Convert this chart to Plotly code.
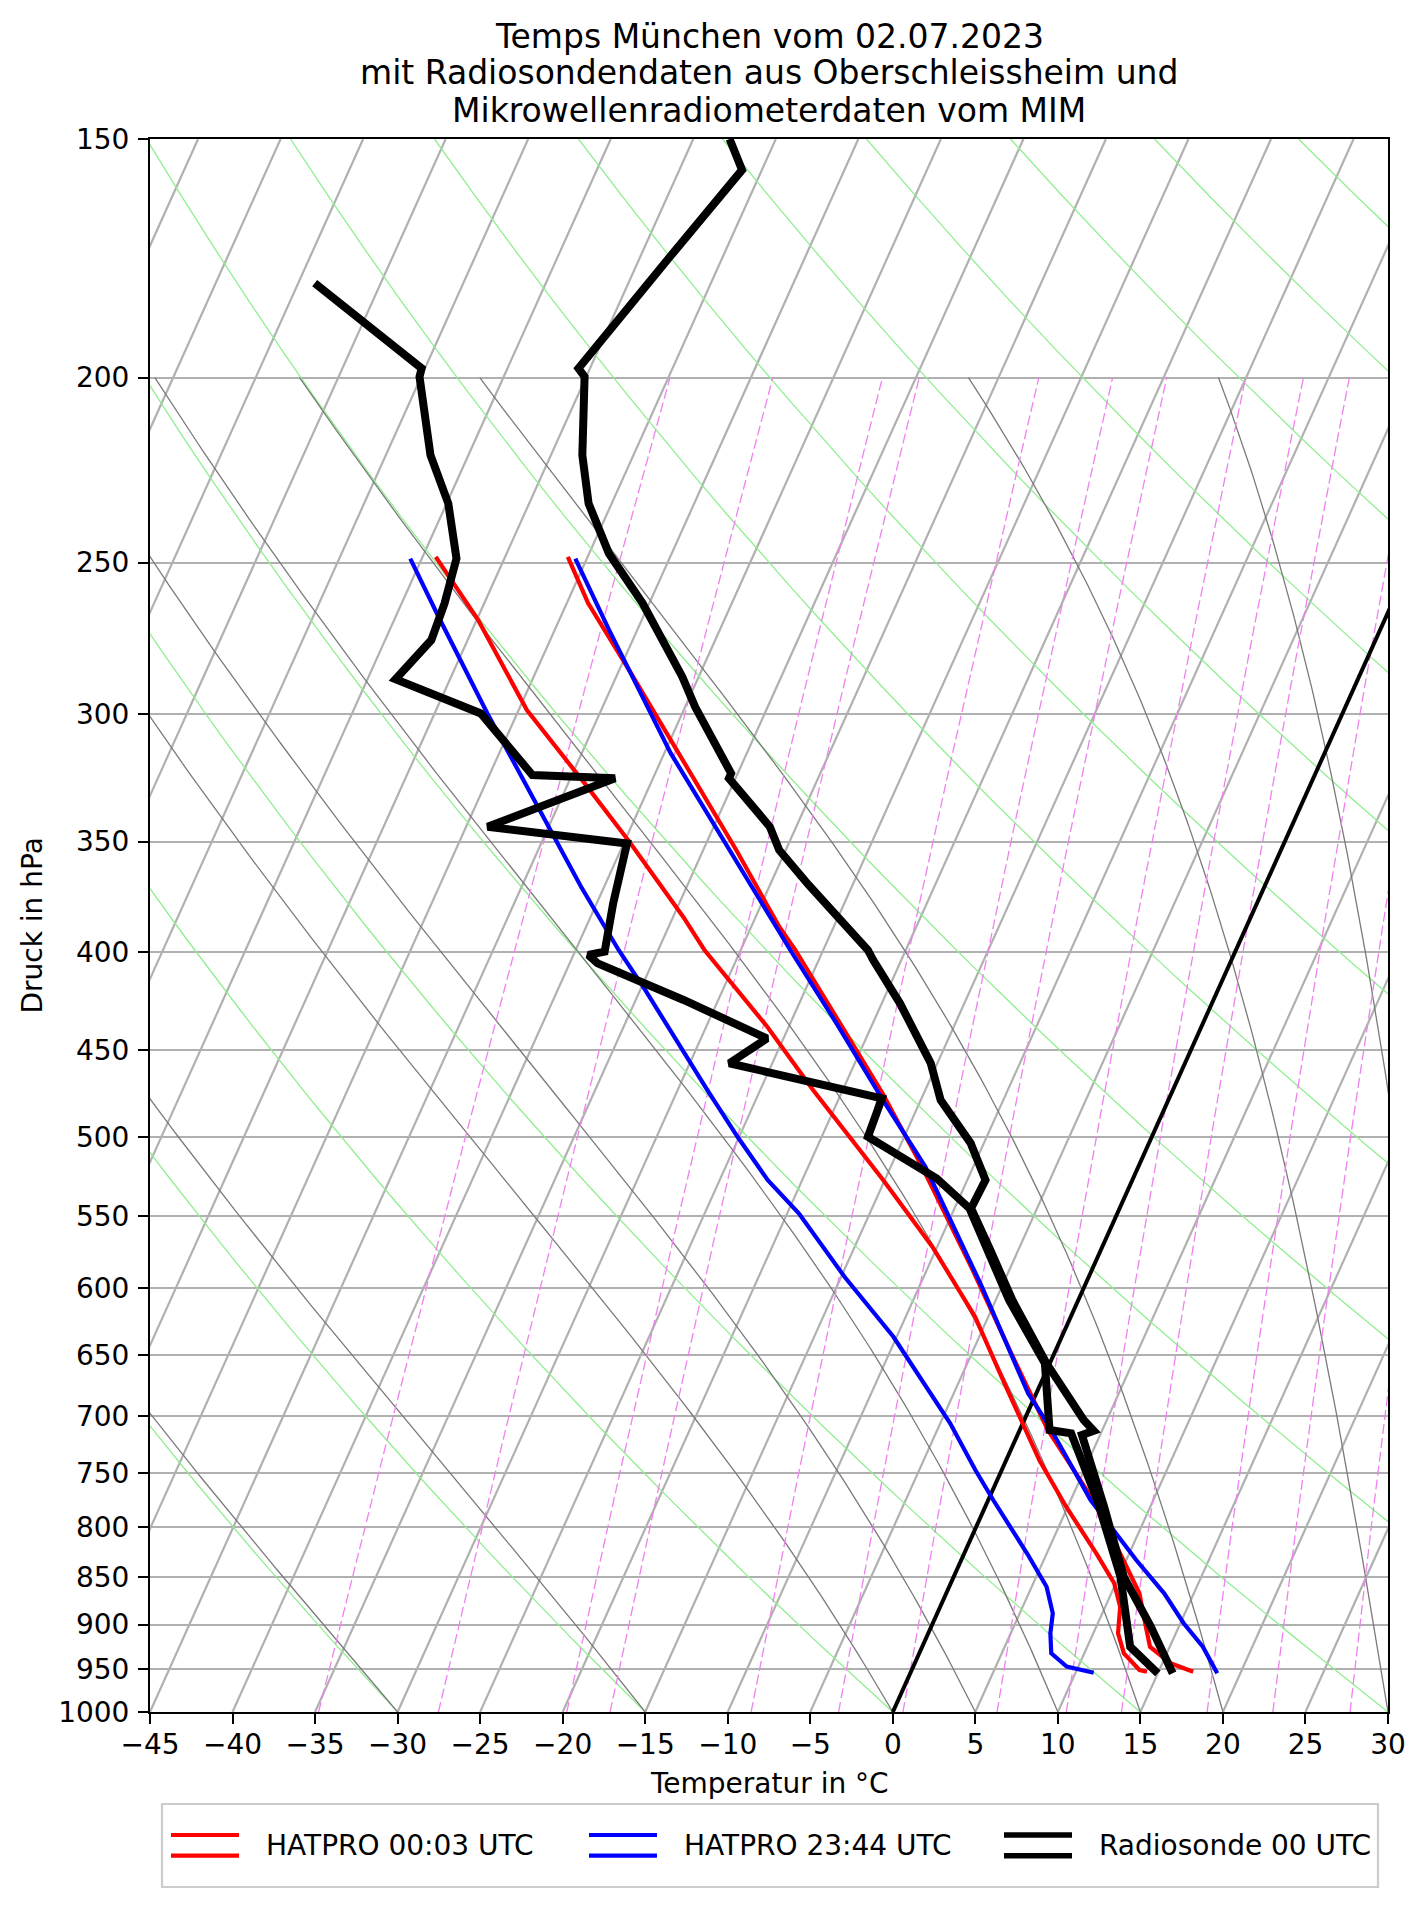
import numpy as np
import plotly.graph_objects as go

# ---------------- data ----------------
# Radiosonde 00 UTC (Oberschleissheim): temperature
sonde_p = [150, 155.7, 172.9, 190.4, 197.8, 199.8, 219.6, 232.8, 247.3, 262.6, 286.9, 297.5,
           322.4, 324.3, 343.8, 353.6, 368.6, 398.9, 403.8, 425.4, 457.3, 478.0, 497.6, 503.6,
           526.4, 544.7, 572.8, 608.4, 656.7, 703.2, 712.3, 716.0, 780.7, 849.4, 902.2, 954.4]
sonde_T = [-52.8, -51.2, -53.2, -54.9, -55.7, -55.1, -53.1, -51.4, -48.8, -45.4, -41.0, -39.4,
           -35.4, -35.4, -31.6, -30.4, -27.7, -22.3, -21.7, -18.9, -15.4, -13.8, -11.4, -10.8,
           -8.9, -9.0, -6.7, -4.0, -0.2, 3.6, 4.5, 3.9, 7.2, 10.3, 13.3, 15.9]
# Radiosonde 00 UTC: dewpoint
sonde_pd = [178.5, 197.8, 199.8, 219.6, 232.8, 248.8, 262.6, 274.5, 287.8, 299.9, 323.0, 324.3,
            343.8, 350.8, 377.1, 399.7, 401.3, 405.4, 423.7, 443.8, 457.3, 477.1, 499.7, 525.4,
            544.7, 572.8, 608.4, 656.7, 711.7, 714.5, 774.4, 849.4, 891.4, 924.3, 954.4]
sonde_Td = [-74.0, -65.2, -65.1, -62.3, -59.9, -57.9, -57.4, -57.2, -58.3, -52.2, -47.4, -42.3,
            -48.7, -39.8, -39.0, -38.2, -39.1, -38.3, -32.1, -26.0, -27.6, -17.4, -17.2, -11.9,
            -9.1, -6.9, -4.2, -0.3, 1.8, 3.2, 6.6, 10.1, 11.5, 12.6, 15.0]

# HATPRO 00:03 UTC: temperature
h1_p = [248.3, 262.6, 284.6, 317.2, 353.6, 387.9, 398.9, 432.4, 474.2, 516.0, 584.5, 646.2,
        711.7, 780.7, 832.5, 866.6, 902.2, 924.3, 943.0, 952.6]
h1_T = [-51.2, -48.7, -44.4, -38.7, -33.0, -28.3, -26.7, -22.4, -17.5, -13.3, -7.4, -2.8,
        1.7, 6.8, 9.8, 11.7, 13.0, 13.8, 15.5, 17.1]
# HATPRO 00:03 UTC: dewpoint
h1_pd = [248.3, 268.0, 298.7, 326.3, 350.1, 383.2, 398.9, 437.6, 472.3, 526.4, 570.5, 620.8,
         672.8, 737.9, 780.7, 825.8, 856.2, 880.7, 909.5, 931.7, 950.6, 952.6]
h1_Td = [-59.2, -54.9, -49.5, -44.0, -39.7, -34.4, -32.2, -26.3, -21.8, -15.1, -10.3, -5.8,
         -2.2, 2.0, 4.9, 8.0, 9.9, 10.9, 11.5, 12.4, 13.8, 14.3]

# HATPRO 23:44 UTC: temperature
h2_p = [248.8, 271.2, 314.7, 355.0, 391.0, 398.9, 435.8, 478.0, 518.1, 598.8, 680.9, 706.0,
        774.4, 802.9, 832.5, 866.6, 898.5, 924.3, 954.4]
h2_T = [-50.7, -46.7, -39.6, -33.2, -28.1, -27.0, -22.2, -17.3, -12.9, -6.2, -0.5, 1.5,
        6.2, 8.4, 10.6, 13.2, 15.2, 17.0, 18.6]
# HATPRO 23:44 UTC: dewpoint
h2_pd = [248.8, 266.9, 299.9, 334.3, 369.6, 398.9, 418.6, 472.3, 499.7, 526.4, 548.0, 591.6,
         636.0, 706.0, 746.9, 774.4, 825.8, 859.8, 887.8, 909.5, 931.7, 946.8, 953.7]
h2_Td = [-60.7, -57.4, -51.8, -46.4, -41.4, -37.4, -34.7, -28.2, -25.1, -22.1, -19.3, -14.8,
         -10.2, -4.4, -1.6, 0.3, 3.8, 5.9, 7.0, 7.4, 8.0, 9.3, 11.1]

# axis ticks
p_ticks = [150, 200, 250, 300, 350, 400, 450, 500, 550, 600, 650, 700, 750, 800, 850, 900, 950, 1000]
t_ticks = list(range(-45, 31, 5))

# background line families
iso_T = list(range(-90, 35, 5))                       # isotherms (degC)
dry_t0 = list(range(-45, 200, 15))                    # dry adiabats, T at 1000 hPa
moist_t0 = [-30, -15, 0, 5, 10, 15, 20, 30, 35]      # moist adiabats, T at 1000 hPa
mix_w = [0.2, 0.4, 0.8, 1, 2, 3, 4, 6, 8, 10, 14, 18, 24]  # mixing ratios g/kg

labels = ["HATPRO 00:03 UTC", "HATPRO 23:44 UTC", "Radiosonde 00 UTC"]
title_lines = ["Temps München vom 02.07.2023",
               "mit Radiosondendaten aus Oberschleissheim und",
               "Mikrowellenradiometerdaten vom MIM"]

# ---------------- skew-T transform ----------------
SKEW = 22.62  # degC of horizontal shift per unit ln(1000/p)
P0 = 1000.0


def skew_x(T, p):
    return np.asarray(T, float) + SKEW * np.log(P0 / np.asarray(p, float))


def join(lines):
    xs, ys = [], []
    for x, y in lines:
        xs += list(x) + [None]
        ys += list(y) + [None]
    return xs, ys


FONT = "DejaVu Sans"
fig = go.Figure()

# isotherms
iso = [(skew_x([t, t], [1000, 150]), [1000, 150]) for t in iso_T]
x, y = join(iso)
fig.add_trace(go.Scatter(x=x, y=y, mode="lines", line=dict(color="#b0b0b0", width=2.2),
                         hoverinfo="skip", showlegend=False))

# dry adiabats
pp = np.linspace(1000, 150, 80)
dry = []
for t0 in dry_t0:
    T = (t0 + 273.15) * (pp / 1000.0) ** 0.28571 - 273.15
    dry.append((skew_x(T, pp), pp))
x, y = join(dry)
fig.add_trace(go.Scatter(x=x, y=y, mode="lines", line=dict(color="#90ee90", width=1.3),
                         hoverinfo="skip", showlegend=False))

# moist adiabats (pseudo-adiabatic lapse rate, RK4 in ln p)
Rd, Cp, Lv, EPS = 287.04749, 1004.666, 2.50084e6, 0.622


def dTdlnp(T, p):
    es = 6.112 * np.exp(17.67 * (T - 273.15) / (T - 29.65))
    rs = EPS * es / (p - es)
    return (Rd * T + Lv * rs) / (Cp + Lv * Lv * rs * EPS / (Rd * T * T))


lnp = np.linspace(np.log(1000.0), np.log(200.0), 161)
moist = []
for t0 in moist_t0:
    T = t0 + 273.15
    Ts = [T]
    for i in range(len(lnp) - 1):
        h = lnp[i + 1] - lnp[i]
        p1 = np.exp(lnp[i]); pm = np.exp(lnp[i] + h / 2); p2 = np.exp(lnp[i + 1])
        k1 = dTdlnp(T, p1)
        k2 = dTdlnp(T + h / 2 * k1, pm)
        k3 = dTdlnp(T + h / 2 * k2, pm)
        k4 = dTdlnp(T + h * k3, p2)
        T = T + h / 6 * (k1 + 2 * k2 + 2 * k3 + k4)
        Ts.append(T)
    Ts = np.array(Ts) - 273.15
    pm_arr = np.exp(lnp)
    moist.append((skew_x(Ts, pm_arr), pm_arr))
x, y = join(moist)
fig.add_trace(go.Scatter(x=x, y=y, mode="lines", line=dict(color="#7a7a7a", width=1.3),
                         hoverinfo="skip", showlegend=False))

# mixing ratio lines
pw = np.linspace(1000, 200, 60)
mix = []
for w in mix_w:
    e = pw * w / (622.0 + w)
    v = np.log(e / 6.112)
    Td = 243.5 * v / (17.67 - v)
    mix.append((skew_x(Td, pw), pw))
x, y = join(mix)
fig.add_trace(go.Scatter(x=x, y=y, mode="lines",
                         line=dict(color="#ee82ee", width=1.3, dash="10px,4px"),
                         hoverinfo="skip", showlegend=False))

# 0 degC isotherm
fig.add_trace(go.Scatter(x=skew_x([0, 0], [1000, 150]), y=[1000, 150], mode="lines",
                         line=dict(color="black", width=4), hoverinfo="skip", showlegend=False))


# data lines
def add_line(p, T, color, width, name):
    fig.add_trace(go.Scatter(x=skew_x(T, p), y=p, mode="lines", name=name,
                             line=dict(color=color, width=width), showlegend=False))


add_line(h1_p, h1_T, "red", 4.2, labels[0])
add_line(h1_pd, h1_Td, "red", 4.2, labels[0])
add_line(h2_p, h2_T, "blue", 4.2, labels[1])
add_line(h2_pd, h2_Td, "blue", 4.2, labels[1])
add_line(sonde_p, sonde_T, "black", 8, labels[2])
add_line(sonde_pd, sonde_Td, "black", 8, labels[2])

# ---------------- layout ----------------
# page body has an 8 px margin; the figure is sized so the plot area lands at
# x 150..1388, y 139..1712 of the 1427x1907 window
OFF = 8
W, H = 1427 - 2 * OFF, 1907 - 2 * OFF
PLOT_X0, PLOT_X1, PLOT_Y0, PLOT_Y1 = 150, 1388, 139, 1712
L = PLOT_X0 - OFF
T_ = PLOT_Y0 - OFF
R = W - L - (PLOT_X1 - PLOT_X0)
B = H - T_ - (PLOT_Y1 - PLOT_Y0)
PW, PH = PLOT_X1 - PLOT_X0, PLOT_Y1 - PLOT_Y0


def px(xp):
    return (xp - PLOT_X0) / PW


def py(yp):
    return (PLOT_Y1 - yp) / PH


ann = []
for txt, yc in zip(title_lines, [36, 72.5, 111]):
    ann.append(dict(text=txt, x=0.5, y=py(yc), xref="paper", yref="paper", showarrow=False,
                    xanchor="center", yanchor="middle", font=dict(family=FONT, size=33, color="black")))
ann.append(dict(text="Temperatur in °C", x=0.5, y=py(1783), xref="paper", yref="paper",
                showarrow=False, xanchor="center", yanchor="middle",
                font=dict(family=FONT, size=28, color="black")))
ann.append(dict(text="Druck in hPa", x=px(32), y=0.5, xref="paper", yref="paper", textangle=-90,
                showarrow=False, xanchor="center", yanchor="middle",
                font=dict(family=FONT, size=28, color="black")))

# legend (matplotlib-style box with double-line handles)
shapes = [dict(type="rect", xref="paper", yref="paper", x0=px(162), x1=px(1378), y0=py(1887), y1=py(1804),
               line=dict(color="#cccccc", width=2.2), fillcolor="rgba(255,255,255,0.8)", layer="above")]
leg_colors = ["red", "blue", "black"]
leg_w = [4.2, 4.2, 5.5]
leg_x = [171, 589, 1004]
for lab, c, lw, x0 in zip(labels, leg_colors, leg_w, leg_x):
    for yy in (1835, 1855.7):
        shapes.append(dict(type="line", xref="paper", yref="paper", x0=px(x0), x1=px(x0 + 68),
                           y0=py(yy), y1=py(yy), line=dict(color=c, width=lw), layer="above"))
    ann.append(dict(text=lab, x=px(x0 + 93), y=py(1845), xref="paper", yref="paper", showarrow=False,
                    xanchor="left", yanchor="middle", font=dict(family=FONT, size=28, color="black")))

fig.update_layout(
    width=W, height=H, margin=dict(l=L, r=R, t=T_, b=B, pad=0),
    paper_bgcolor="white", plot_bgcolor="white",
    font=dict(family=FONT, size=28, color="black"),
    showlegend=False, annotations=ann, shapes=shapes,
    xaxis=dict(range=[-45, 30], tickvals=t_ticks,
               ticktext=[str(t).replace("-", "\u2212") for t in t_ticks],
               ticks="outside", ticklen=10, tickwidth=2, tickcolor="black", ticklabelstandoff=-4,
               showline=True, linecolor="black", linewidth=2, mirror=True,
               showgrid=False, zeroline=False, tickfont=dict(family=FONT, size=28)),
    yaxis=dict(type="log", range=[3, np.log10(150)], tickvals=p_ticks,
               ticktext=[str(p) for p in p_ticks],
               ticks="outside", ticklen=10, tickwidth=2, tickcolor="black", ticklabelstandoff=3,
               showline=True, linecolor="black", linewidth=2, mirror=True,
               showgrid=True, gridcolor="#b0b0b0", gridwidth=2, zeroline=False,
               tickfont=dict(family=FONT, size=28)),
)

fig.write_html("out.html")
